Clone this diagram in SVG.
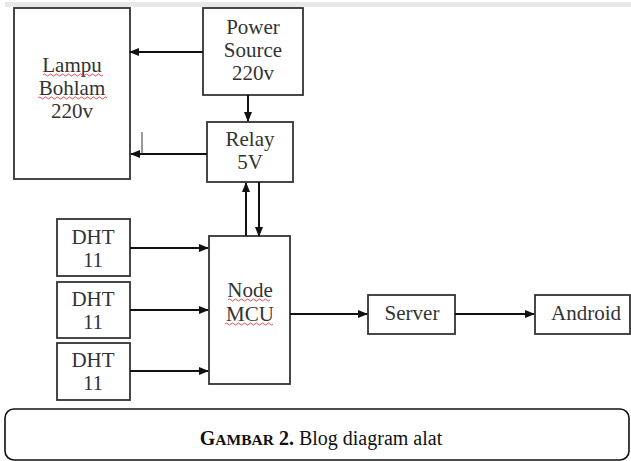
<svg xmlns="http://www.w3.org/2000/svg" width="631" height="461" viewBox="0 0 631 461">
<style>
.box{fill:#fff;stroke:#333;stroke-width:1.8}
.t{font-family:'Liberation Serif','DejaVu Serif','Times New Roman',serif;font-size:21px;fill:#333;text-anchor:middle}
.c{stroke:#111;stroke-width:2;fill:none}
.sq{stroke:#e04040;stroke-width:0.9;fill:none}
.cap{font-family:'Liberation Serif','DejaVu Serif','Times New Roman',serif;font-size:20px;fill:#111;text-anchor:middle}
</style>
<defs>
<marker id="ah" viewBox="0 0 10 10" refX="9" refY="5" markerWidth="5" markerHeight="5" orient="auto" markerUnits="strokeWidth">
<path d="M0,1 L10,5 L0,9 z" fill="#111"/>
</marker>
</defs>
<rect x="0" y="0" width="631" height="461" fill="#fff"/>
<rect x="5" y="2" width="626" height="5" fill="#e8e8e8"/>
<g id="lampu">
<rect class="box" x="14" y="8" width="116" height="171"/>
<text class="t" x="72" y="72">Lampu</text>
<text class="t" x="72" y="95">Bohlam</text>
<text class="t" x="72" y="118">220v</text>
<path class="sq" d="M43,75 q1.5,-2 3,0 t3,0 t3,0 t3,0 t3,0 t3,0 t3,0 t3,0 t3,0 t3,0 t3,0 t3,0 t3,0 t3,0 t3,0 t3,0 t3,0 t3,0 t3,0 t3,0"/>
<path class="sq" d="M38,98 q1.5,-2 3,0 t3,0 t3,0 t3,0 t3,0 t3,0 t3,0 t3,0 t3,0 t3,0 t3,0 t3,0 t3,0 t3,0 t3,0 t3,0 t3,0 t3,0 t3,0 t3,0 t3,0 t3,0 t3,0"/>
</g>
<g id="power">
<rect class="box" x="203" y="8" width="100" height="87"/>
<text class="t" x="253" y="34">Power</text>
<text class="t" x="253" y="57">Source</text>
<text class="t" x="253" y="80">220v</text>
</g>
<g id="relay">
<rect class="box" x="207" y="122" width="86" height="60"/>
<text class="t" x="250" y="146">Relay</text>
<text class="t" x="250" y="169">5V</text>
</g>
<g id="dht1">
<rect class="box" x="57" y="219" width="73" height="57"/>
<text class="t" x="93" y="244">DHT</text>
<text class="t" x="93" y="267">11</text>
</g>
<g id="dht2">
<rect class="box" x="57" y="282" width="73" height="56"/>
<text class="t" x="93" y="306">DHT</text>
<text class="t" x="93" y="329">11</text>
</g>
<g id="dht3">
<rect class="box" x="57" y="343" width="73" height="57"/>
<text class="t" x="93" y="367">DHT</text>
<text class="t" x="93" y="390">11</text>
</g>
<g id="nodemcu">
<rect class="box" x="209" y="236" width="81" height="148"/>
<text class="t" x="250" y="297">Node</text>
<text class="t" x="250" y="321">MCU</text>
<path class="sq" d="M228,300 q1.5,-2 3,0 t3,0 t3,0 t3,0 t3,0 t3,0 t3,0 t3,0 t3,0 t3,0 t3,0 t3,0 t3,0 t3,0"/>
<path class="sq" d="M225,324 q1.5,-2 3,0 t3,0 t3,0 t3,0 t3,0 t3,0 t3,0 t3,0 t3,0 t3,0 t3,0 t3,0 t3,0 t3,0 t3,0 t3,0"/>
</g>
<g id="server">
<rect class="box" x="368" y="295" width="87" height="39"/>
<text class="t" x="412" y="320">Server</text>
</g>
<g id="android">
<rect class="box" x="535" y="295" width="95" height="39"/>
<text class="t" x="586" y="320">Android</text>
</g>
<g id="connectors">
<line class="c" x1="203" y1="52" x2="130" y2="52" marker-end="url(#ah)"/>
<line class="c" x1="248" y1="95" x2="248" y2="121" marker-end="url(#ah)"/>
<line class="c" x1="207" y1="154" x2="131" y2="154" marker-end="url(#ah)"/>
<line x1="142" y1="132" x2="142" y2="154" stroke="#333" stroke-width="1"/>
<line class="c" x1="246" y1="236" x2="246" y2="183" marker-end="url(#ah)"/>
<line class="c" x1="259" y1="182" x2="259" y2="236" marker-end="url(#ah)"/>
<line class="c" x1="130" y1="248" x2="208" y2="248" marker-end="url(#ah)"/>
<line class="c" x1="130" y1="310" x2="208" y2="310" marker-end="url(#ah)"/>
<line class="c" x1="130" y1="371" x2="208" y2="371" marker-end="url(#ah)"/>
<line class="c" x1="290" y1="314" x2="367" y2="314" marker-end="url(#ah)"/>
<line class="c" x1="455" y1="314" x2="534" y2="314" marker-end="url(#ah)"/>
</g>
<g id="caption">
<rect x="5" y="409" width="624" height="51" rx="9" ry="9" fill="#fff" stroke="#111" stroke-width="1.6"/>
<text class="cap" x="321" y="445"><tspan font-weight="bold">G<tspan font-size="15.5px">AMBAR</tspan> 2.</tspan> Blog diagram alat</text>
</g>
</svg>
